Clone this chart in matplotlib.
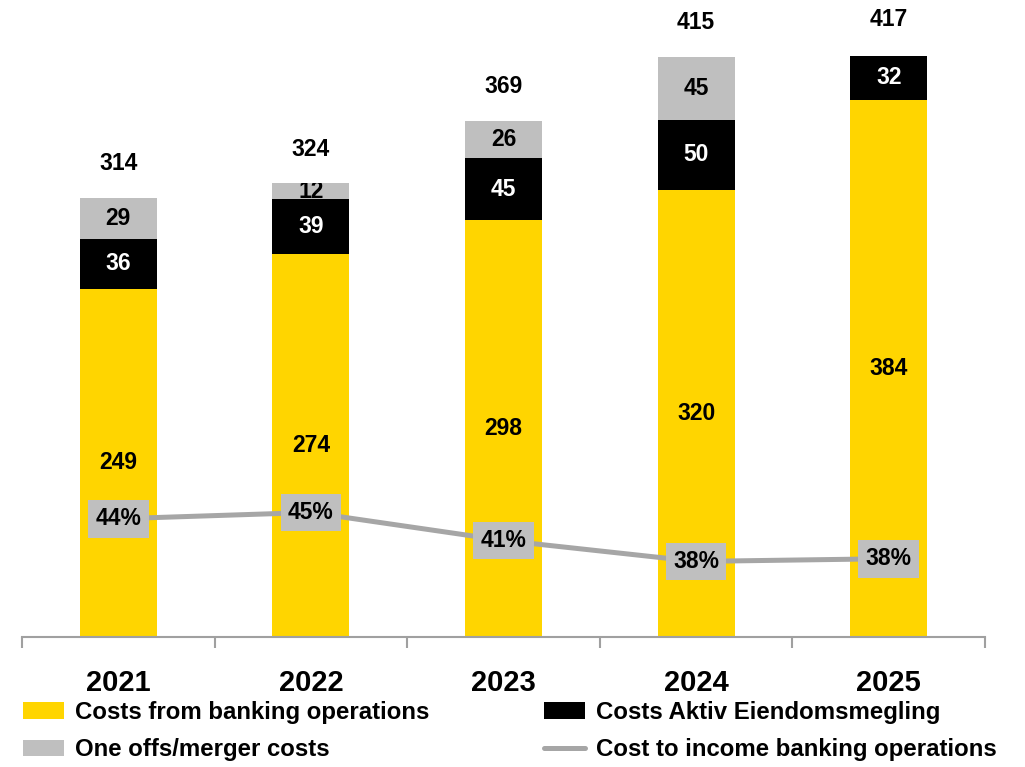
import matplotlib.pyplot as plt
import numpy as np
from matplotlib.lines import Line2D

years = ['2021', '2022', '2023', '2024', '2025']
banking = [249, 274, 298, 320, 384]
aktiv = [36, 39, 45, 50, 32]
one_offs = [29, 12, 26, 45, 0]
totals = [314, 324, 369, 415, 417]
cost_income = [44.2, 45.1, 41.1, 38.1, 38.49]

YELLOW = '#FFD500'
GREY = '#BFBFBF'
LINE_GREY = '#A6A6A6'
AXIS_GREY = '#A0A0A0'

plt.rcParams['font.family'] = ['Liberation Sans', 'DejaVu Sans']
plt.rcParams['font.weight'] = 'bold'

fig = plt.figure(figsize=(10.25, 7.67), dpi=100)
ax = fig.add_axes([22 / 1025, 130 / 767, 963 / 1025, 629 / 767])
x = np.arange(len(years))
w = 0.4

# stacked cost bars
b1 = ax.bar(x, banking, w, color=YELLOW, label='Costs from banking operations')
bottom2 = np.array(banking)
b2 = ax.bar(x, aktiv, w, bottom=bottom2, color='black',
            label='Costs Aktiv Eiendomsmegling')
bottom3 = bottom2 + np.array(aktiv)
b3 = ax.bar(x, one_offs, w, bottom=bottom3, color=GREY,
            label='One offs/merger costs')

val_fs = 16.5
ax.bar_label(b1, labels=[str(v) for v in banking], label_type='center',
             fontsize=val_fs, fontweight='bold', color='black')
ax.bar_label(b2, labels=[str(v) for v in aktiv], label_type='center',
             fontsize=val_fs, fontweight='bold', color='white')
grey_txt = ax.bar_label(b3, labels=[str(v) if v else '' for v in one_offs],
                        label_type='center', fontsize=val_fs,
                        fontweight='bold', color='black')
# keep small segment labels inside their own segment
for t, rect in zip(grey_txt, b3.patches):
    t.set_clip_path(rect)

for xi, tot in zip(x, totals):
    ax.annotate(str(tot), (xi, tot), xytext=(0, 25), textcoords='offset points',
                ha='center', va='center', fontsize=val_fs, fontweight='bold')

ax.set_xlim(-0.5, len(years) - 0.5)
ax.set_ylim(0, 450)
for s in ['left', 'top', 'right']:
    ax.spines[s].set_visible(False)
ax.spines['bottom'].set_color(AXIS_GREY)
ax.spines['bottom'].set_linewidth(1.5)
ax.set_yticks([])
ax.set_xticks(x)
ax.set_xticklabels(years, fontsize=21, fontweight='bold')
ax.tick_params(axis='x', which='major', length=0, pad=23)
ax.set_xticks(np.arange(-0.5, len(years)), minor=True)
ax.tick_params(axis='x', which='minor', length=8, width=1.5,
               color=AXIS_GREY, direction='out')

# cost/income ratio on its own scale
ax2 = ax.twinx()
ax2.set_ylim(27.3, 117.2)
ax2.axis('off')
ax2.plot(x, cost_income, color=LINE_GREY, lw=3.6, solid_capstyle='butt')
for xi, p in zip(x, cost_income):
    ax2.text(xi, p, f'{p:.0f}%', ha='center', va='center', fontsize=val_fs,
             fontweight='bold',
             bbox=dict(boxstyle='square,pad=0.32', fc=GREY, ec='none'))

leg_kw = dict(loc='upper left', frameon=False, borderpad=0, borderaxespad=0,
              handlelength=1.7, handleheight=0.7, handletextpad=0.45,
              labelspacing=0.6, fontsize=17.3)
line_handle = Line2D([], [], color=LINE_GREY, lw=3.6, solid_capstyle='round')
fig.legend(handles=[b1, b3], bbox_to_anchor=(23 / 1025, 66 / 767), **leg_kw)
fig.legend(handles=[b2, line_handle],
           labels=['Costs Aktiv Eiendomsmegling', 'Cost to income banking operations'],
           bbox_to_anchor=(544 / 1025, 66 / 767), **leg_kw)

fig.savefig('out.png', dpi=100)
